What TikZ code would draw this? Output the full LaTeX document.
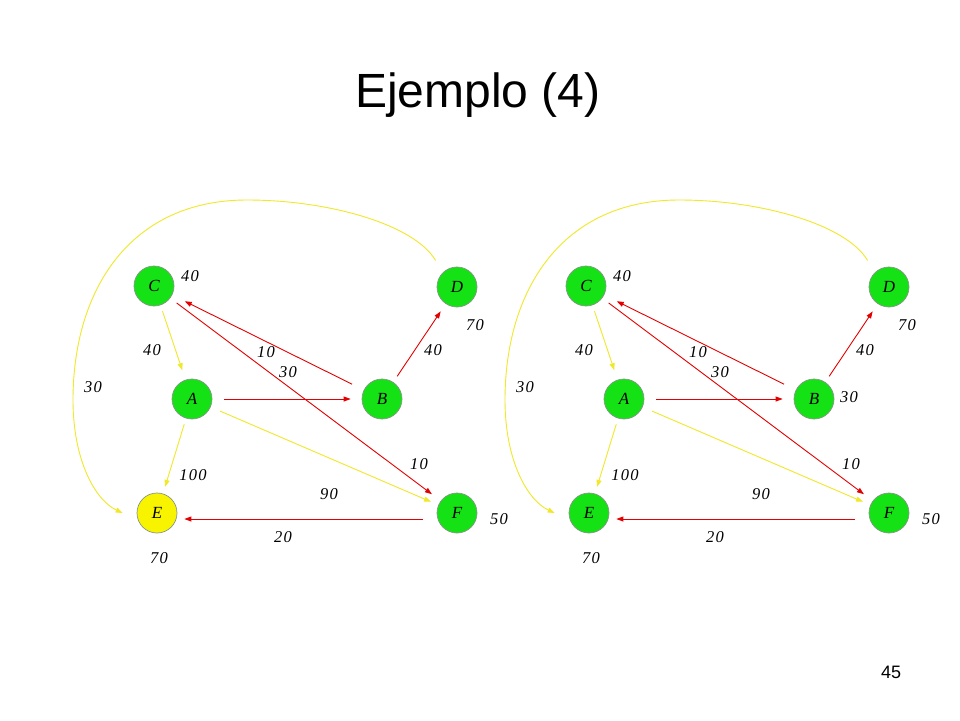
\documentclass[tikz,border=0pt]{standalone}
\usepackage{fontspec}
\setmainfont{Liberation Serif}
\newfontfamily\slidefont{Liberation Sans}
\newfontfamily\weightfont[LetterSpace=8]{Liberation Serif}
\usetikzlibrary{arrows.meta}
\definecolor{nodegreen}{RGB}{20,226,20}
\definecolor{nodeyellow}{RGB}{248,244,0}
\definecolor{edgeyellow}{RGB}{240,232,40}
\definecolor{edgered}{RGB}{228,0,0}
\definecolor{rimgray}{RGB}{135,150,135}

\begin{document}
\begin{tikzpicture}[x=1pt, y=-1pt,
		vertex/.style={circle, draw=rimgray, line width=0.7pt, fill=nodegreen, minimum size=40pt, inner sep=0pt, font=\itshape\fontsize{17}{17}\selectfont},
		weight/.style={inner sep=0pt, font=\weightfont\itshape\fontsize{16.5}{17}\selectfont},
		redge/.style={draw=edgered, line width=0.9pt, -{Triangle[length=7pt,width=5pt]}},
		yedge/.style={draw=edgeyellow, line width=0.9pt, -{Triangle[length=7pt,width=5pt]}}]
			\useasboundingbox[fill=white] (0,0) rectangle (960,720);
			%Title
			\node[anchor=base, font=\slidefont\fontsize{48}{48}\selectfont] (title) at (478,107) {Ejemplo (4)};
			\node[anchor=base, font=\slidefont\fontsize{18}{18}\selectfont] (page) at (891,678) {45};
			%Left graph
			\node[vertex] (C1) at (154,286) {C};
			\node[vertex] (D1) at (457,287) {D};
			\node[vertex] (A1) at (192,399) {A};
			\node[vertex] (B1) at (382,399) {B};
			\node[vertex, fill=nodeyellow] (E1) at (157,513) {E};
			\node[vertex] (F1) at (457,513) {F};
			\draw[yedge, shorten <=6pt, shorten >=10pt] (C1) -- (A1);
			\draw[redge, shorten <=8pt, shorten >=11pt] (C1) -- (F1);
			\draw[redge, shorten <=13pt, shorten >=14pt] (B1) -- (C1);
			\draw[redge, shorten <=7pt, shorten >=9pt] (B1) -- (D1);
			\draw[redge, shorten <=12pt, shorten >=11pt] (A1) -- (B1);
			\draw[yedge, shorten <=10pt, shorten >=8pt] (A1) -- (F1);
			\draw[yedge, shorten <=6pt, shorten >=7pt] (A1) -- (E1);
			\draw[redge, shorten <=14pt, shorten >=7pt] ([yshift=-6pt]F1.west) -- ([yshift=-6pt]E1.east);
			\draw[yedge, shorten <=14pt] (D1.north west) .. controls (415,225) and (330,200) .. (247,200)
				.. controls (130,200) and (73,290) .. (73,400) .. controls (73,460) and (95,500) .. ([xshift=-14pt]E1.west);
			\node[weight] (wC1) at (190,276) {40};
			\node[weight] (wD1) at (475,325) {70};
			\node[weight] (wCA1) at (152,350) {40};
			\node[weight] (wBC1) at (266,352) {10};
			\node[weight] (wCF1) at (288,372) {30};
			\node[weight] (wBD1) at (433,350) {40};
			\node[weight] (wDE1) at (93,387) {30};
			\node[weight] (wAE1) at (193,475) {100};
			\node[weight] (wF1) at (419,464) {10};
			\node[weight] (wAF1) at (329,494) {90};
			\node[weight] (wFF1) at (499,519) {50};
			\node[weight] (wFE1) at (283,537) {20};
			\node[weight] (wE1) at (159,558) {70};
			%Right graph
			\begin{scope}[xshift=432pt]
			\node[vertex] (C2) at (154,286) {C};
			\node[vertex] (D2) at (457,287) {D};
			\node[vertex] (A2) at (192,399) {A};
			\node[vertex] (B2) at (382,399) {B};
			\node[vertex] (E2) at (157,513) {E};
			\node[vertex] (F2) at (457,513) {F};
			\draw[yedge, shorten <=6pt, shorten >=10pt] (C2) -- (A2);
			\draw[redge, shorten <=8pt, shorten >=11pt] (C2) -- (F2);
			\draw[redge, shorten <=13pt, shorten >=14pt] (B2) -- (C2);
			\draw[redge, shorten <=7pt, shorten >=9pt] (B2) -- (D2);
			\draw[redge, shorten <=12pt, shorten >=11pt] (A2) -- (B2);
			\draw[yedge, shorten <=10pt, shorten >=8pt] (A2) -- (F2);
			\draw[yedge, shorten <=6pt, shorten >=7pt] (A2) -- (E2);
			\draw[redge, shorten <=14pt, shorten >=7pt] ([yshift=-6pt]F2.west) -- ([yshift=-6pt]E2.east);
			\draw[yedge, shorten <=14pt] (D2.north west) .. controls (415,225) and (330,200) .. (247,200)
				.. controls (130,200) and (73,290) .. (73,400) .. controls (73,460) and (95,500) .. ([xshift=-14pt]E2.west);
			\node[weight] (wC2) at (190,276) {40};
			\node[weight] (wD2) at (475,325) {70};
			\node[weight] (wCA2) at (152,350) {40};
			\node[weight] (wBC2) at (266,352) {10};
			\node[weight] (wCF2) at (288,372) {30};
			\node[weight] (wBD2) at (433,350) {40};
			\node[weight] (wB2) at (417,397) {30};
			\node[weight] (wDE2) at (93,387) {30};
			\node[weight] (wAE2) at (193,475) {100};
			\node[weight] (wF2) at (419,464) {10};
			\node[weight] (wAF2) at (329,494) {90};
			\node[weight] (wFF2) at (499,519) {50};
			\node[weight] (wFE2) at (283,537) {20};
			\node[weight] (wE2) at (159,558) {70};
			\end{scope}
		\end{tikzpicture}
\end{document}
